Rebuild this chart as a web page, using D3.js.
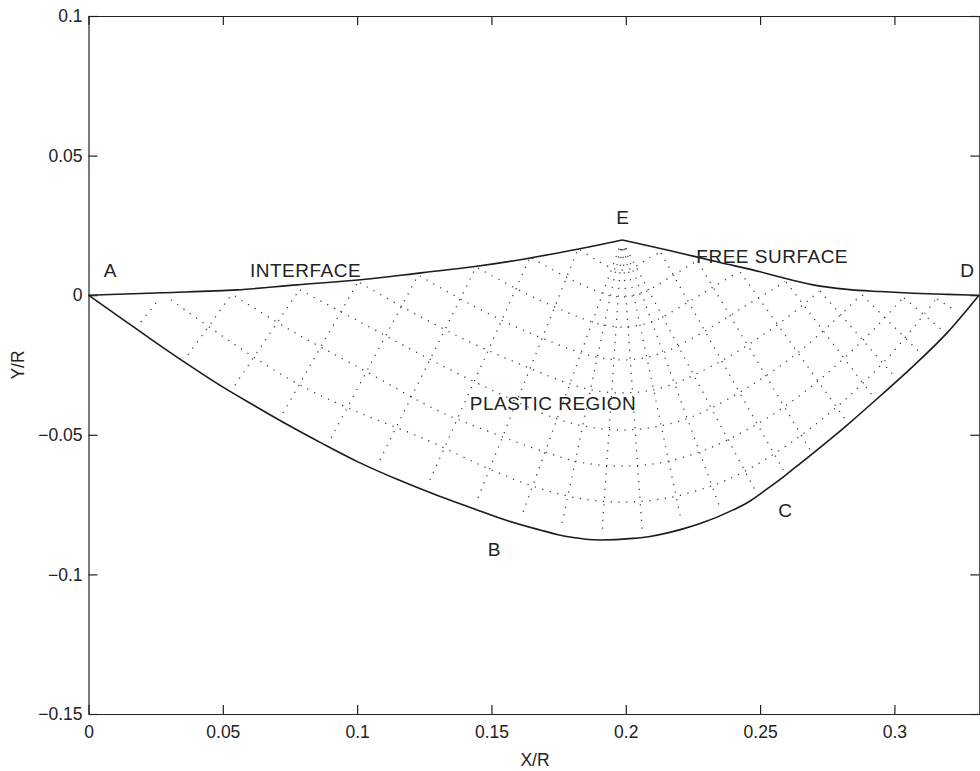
<!DOCTYPE html>
<html>
<head>
<meta charset="utf-8">
<script src="https://cdn.jsdelivr.net/npm/d3@7"></script>
<style>
  html, body { margin: 0; padding: 0; background: #fff; }
  svg { display: block; }
  text { font-family: "Liberation Sans", Arial, Helvetica, sans-serif; fill: #222; }
</style>
</head>
<body>
<svg id="chart" width="980" height="771"></svg>
<script>
// ---- Boundaries of the plastic zone, in (X/R, Y/R) ----
const interfacePts = [
  [0, 0], [0.0277, 0.0009], [0.0553, 0.0019], [0.0776, 0.0037], [0.1022, 0.0056],
  [0.1245, 0.0081], [0.1432, 0.0102], [0.1618, 0.0129], [0.1804, 0.0162], [0.1986, 0.0198]
];
const freeSurfacePts = [
  [0.1986, 0.0198], [0.2154, 0.0162], [0.2351, 0.0117], [0.2500, 0.0084], [0.2574, 0.0065],
  [0.2697, 0.0037], [0.2824, 0.0021], [0.2947, 0.0013], [0.3070, 0.0007], [0.3196, 0.0003],
  [0.3315, 0]
];
const lowerBoundaryPts = [
  [0, 0], [0.0121, -0.0082], [0.0248, -0.0168], [0.0370, -0.0248], [0.0493, -0.0325],
  [0.0620, -0.0397], [0.0743, -0.0465], [0.0866, -0.0529], [0.1003, -0.0597], [0.1160, -0.0664],
  [0.1309, -0.0721], [0.1432, -0.0764], [0.1558, -0.0807], [0.1681, -0.0841], [0.1744, -0.0857],
  [0.1804, -0.0868], [0.1904, -0.0877], [0.2027, -0.0871], [0.2090, -0.0864], [0.2213, -0.0837],
  [0.2277, -0.0818], [0.2400, -0.0769], [0.2463, -0.0737], [0.2526, -0.0694], [0.2593, -0.0646],
  [0.2649, -0.0603], [0.2824, -0.0465], [0.2947, -0.0361], [0.3070, -0.0254], [0.3196, -0.0135],
  [0.3315, 0]
];

// ---- Slip-line net ----
// alpha lines: run from the interface, round the fan at E, out to the free surface
const alphaLines = [
  [[0.0307, -0.0017], [0.0531, -0.0168], [0.0754, -0.0304], [0.0940, -0.0393], [0.1260, -0.0519],
   [0.1484, -0.0619], [0.1651, -0.0683], [0.1817, -0.0726], [0.1986, -0.0741], [0.2156, -0.0726],
   [0.2320, -0.0683], [0.2444, -0.0630], [0.2612, -0.0530], [0.2798, -0.0390], [0.2984, -0.0215],
   [0.3155, -0.0014]],
  [[0.0545, -0.0003], [0.0769, -0.0135], [0.1003, -0.0257], [0.1295, -0.0411], [0.1446, -0.0472],
   [0.1700, -0.0562], [0.1840, -0.0600], [0.1986, -0.0612], [0.2131, -0.0600], [0.2273, -0.0562],
   [0.2381, -0.0517], [0.2556, -0.0422], [0.2742, -0.0286], [0.2910, -0.0135], [0.3032, -0.0010]],
  [[0.0787, 0.0019], [0.1011, -0.0096], [0.1234, -0.0211], [0.1484, -0.0332], [0.1744, -0.0443],
   [0.1863, -0.0472], [0.1986, -0.0483], [0.2109, -0.0472], [0.2228, -0.0442], [0.2318, -0.0404],
   [0.2463, -0.0325], [0.2630, -0.0214], [0.2779, -0.0089], [0.2876, 0.0001]],
  [[0.1011, 0.0044], [0.1216, -0.0067], [0.1420, -0.0168], [0.1606, -0.0247], [0.1793, -0.0318],
   [0.1887, -0.0342], [0.1986, -0.0350], [0.2085, -0.0342], [0.2180, -0.0317], [0.2254, -0.0286],
   [0.2388, -0.0218], [0.2537, -0.0125], [0.2668, -0.0028], [0.2720, 0.0015]],
  [[0.1234, 0.0069], [0.1420, -0.0032], [0.1625, -0.0128], [0.1834, -0.0207], [0.1908, -0.0225],
   [0.1986, -0.0232], [0.2064, -0.0225], [0.2138, -0.0206], [0.2194, -0.0182], [0.2314, -0.0117],
   [0.2444, -0.0039], [0.2556, 0.0026], [0.2593, 0.0049]],
  [[0.1450, 0.0097], [0.1662, -0.0010], [0.1875, -0.0096], [0.1930, -0.0109], [0.1986, -0.0114],
   [0.2042, -0.0109], [0.2097, -0.0095], [0.2139, -0.0077], [0.2239, -0.0021], [0.2332, 0.0033],
   [0.2418, 0.0083]],
  [[0.1651, 0.0133], [0.1785, 0.0062], [0.1914, 0.0006], [0.1949, -0.0003], [0.1986, -0.0006],
   [0.2023, -0.0003], [0.2059, 0.0006], [0.2086, 0.0018], [0.2172, 0.0069], [0.2262, 0.0121]],
  [[0.1830, 0.0162], [0.1890, 0.0126], [0.1949, 0.0097], [0.1986, 0.0090], [0.2023, 0.0097],
   [0.2057, 0.0115], [0.2091, 0.0136], [0.2128, 0.0153]]
];
// beta lines under the interface (from the lower boundary up to the interface)
const betaLeft = [
  [[0.0195, -0.0096], [0.0266, -0.0010]],
  [[0.0370, -0.0214], [0.0534, 0.0004]],
  [[0.0545, -0.0322], [0.0787, 0.0022]],
  [[0.0724, -0.0422], [0.1003, 0.0047]],
  [[0.0903, -0.0511], [0.1227, 0.0072]],
  [[0.1085, -0.0590], [0.1443, 0.0101]],
  [[0.1271, -0.0662], [0.1644, 0.0137]],
  [[0.1450, -0.0726], [0.1822, 0.0165]]
];
// beta lines of the centred fan at E
const betaFan = [
  [[0.1975, 0.0167], [0.1610, -0.0798]],
  [[0.1980, 0.0166], [0.1759, -0.0834]],
  [[0.1984, 0.0165], [0.1912, -0.0845]],
  [[0.1988, 0.0165], [0.2061, -0.0841]],
  [[0.1993, 0.0166], [0.2206, -0.0805]],
  [[0.1997, 0.0167], [0.2351, -0.0762]],
  [[0.2001, 0.0169], [0.2481, -0.0698]]
];
// beta lines under the free surface (from the free surface down to C-D)
const betaRight = [
  [[0.2131, 0.0151], [0.2586, -0.0626]],
  [[0.2269, 0.0119], [0.2686, -0.0554]],
  [[0.2426, 0.0083], [0.2816, -0.0443]],
  [[0.2597, 0.0047], [0.2917, -0.0358]],
  [[0.2723, 0.0015], [0.2999, -0.0289]],
  [[0.2880, 0.0001], [0.3096, -0.0207]],
  [[0.3036, -0.0010], [0.3181, -0.0128]],
  [[0.3159, -0.0014], [0.3230, -0.0057]]
];

// ---- Axes ----
const xTicks = [0, 0.05, 0.1, 0.15, 0.2, 0.25, 0.3];
const yTicks = [-0.15, -0.1, -0.05, 0, 0.05, 0.1];
const xDomain = [0, 0.3316];
const yDomain = [-0.15, 0.1];

// ---- Annotations (text, anchor point in X/R, Y/R) ----
const annotations = [
  { text: "A", x: 0.0080, y: 0.0065 },
  { text: "INTERFACE", x: 0.0808, y: 0.0065 },
  { text: "E", x: 0.1988, y: 0.0255 },
  { text: "FREE SURFACE", x: 0.2545, y: 0.0115 },
  { text: "D", x: 0.3271, y: 0.0065 },
  { text: "PLASTIC REGION", x: 0.1729, y: -0.0411 },
  { text: "B", x: 0.1510, y: -0.0934 },
  { text: "C", x: 0.2593, y: -0.0795 }
];

const svg = d3.select("#chart");
const W = 980, H = 771;
const margin = { left: 88.5, right: 0.7, top: 16, bottom: 57 };

const x = d3.scaleLinear().domain(xDomain).range([margin.left, W - margin.right]);
const y = d3.scaleLinear().domain(yDomain).range([H - margin.bottom, margin.top]);

const fmt = d => d === 0 ? "0" : (d < 0 ? "\u2212" : "") + String(Math.abs(d));

// slip-line net (dotted)
const smooth = d3.line().x(d => x(d[0])).y(d => y(d[1])).curve(d3.curveCatmullRom.alpha(0.5));
const straight = d3.line().x(d => x(d[0])).y(d => y(d[1]));

const net = svg.append("g")
  .attr("fill", "none")
  .attr("stroke", "#3a3a3a")
  .attr("stroke-width", 1.25)
  .attr("stroke-dasharray", "1.25 6.5");

net.selectAll("path.alpha").data(alphaLines).join("path")
  .attr("class", "alpha").attr("d", smooth);
net.selectAll("path.beta").data(betaLeft.concat(betaFan, betaRight)).join("path")
  .attr("class", "beta").attr("d", straight);

// solid boundaries
const boundary = d3.line().x(d => x(d[0])).y(d => y(d[1])).curve(d3.curveMonotoneX);
const bnd = svg.append("g")
  .attr("fill", "none")
  .attr("stroke", "#1c1c1c")
  .attr("stroke-width", 1.6)
  .attr("stroke-linejoin", "round");
[interfacePts, freeSurfacePts, lowerBoundaryPts].forEach(pts => {
  bnd.append("path").datum(pts).attr("d", boundary);
});

// axes box with inward ticks on all four sides
const axisStyle = g => {
  g.attr("font-family", null).attr("font-size", null);
  g.selectAll(".domain").attr("stroke", "#222").attr("stroke-width", 1.2);
  g.selectAll(".tick line").attr("stroke", "#222").attr("stroke-width", 1.2);
  g.selectAll(".tick text").style("font-size", "17.5px").attr("fill", "#222");
};

svg.append("g")
  .attr("transform", `translate(0,${H - margin.bottom})`)
  .call(d3.axisBottom(x).tickValues(xTicks).tickFormat(fmt).tickSizeInner(-9).tickSizeOuter(0).tickPadding(12))
  .call(axisStyle);
svg.append("g")
  .attr("transform", `translate(0,${margin.top})`)
  .call(d3.axisTop(x).tickValues(xTicks).tickFormat("").tickSizeInner(-9).tickSizeOuter(0))
  .call(axisStyle);
svg.append("g")
  .attr("transform", `translate(${margin.left},0)`)
  .call(d3.axisLeft(y).tickValues(yTicks).tickFormat(fmt).tickSizeInner(-9).tickSizeOuter(0).tickPadding(6))
  .call(axisStyle);
svg.append("g")
  .attr("transform", `translate(${W - margin.right},0)`)
  .call(d3.axisRight(y).tickValues(yTicks).tickFormat("").tickSizeInner(-9).tickSizeOuter(0))
  .call(axisStyle);

// axis titles
svg.append("text")
  .attr("x", 535)
  .attr("y", 766)
  .attr("text-anchor", "middle")
  .style("font-size", "17.5px")
  .text("X/R");
svg.append("text")
  .attr("transform", `translate(24,${(margin.top + H - margin.bottom) / 2}) rotate(-90)`)
  .attr("text-anchor", "middle")
  .style("font-size", "17.5px")
  .text("Y/R");

// point and region labels
svg.append("g").selectAll("text").data(annotations).join("text")
  .attr("x", d => x(d.x))
  .attr("y", d => y(d.y))
  .attr("text-anchor", "middle")
  .style("font-size", "19px")
  .style("letter-spacing", d => d.text.length > 1 ? "0.5px" : null)
  .text(d => d.text);
</script>
</body>
</html>
